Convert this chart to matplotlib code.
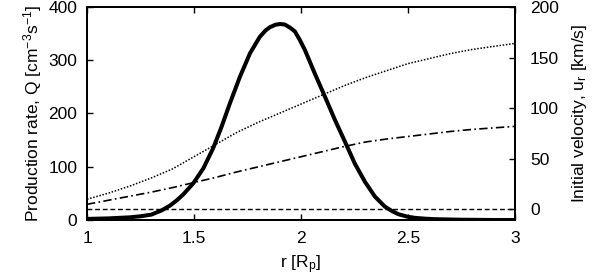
import numpy as np
import matplotlib
matplotlib.use('Agg')
import matplotlib.pyplot as plt

plt.rcParams['font.family'] = ['Liberation Sans', 'DejaVu Sans']
plt.rcParams['mathtext.fontset'] = 'custom'
plt.rcParams['mathtext.rm'] = 'Liberation Sans'
plt.rcParams['mathtext.it'] = 'Liberation Sans'

# production rate Q (left axis)
r_q = [1.0, 1.1, 1.2, 1.25, 1.3, 1.349, 1.388, 1.42, 1.45, 1.497, 1.544,
       1.59, 1.629, 1.668, 1.715, 1.762, 1.808, 1.835, 1.855, 1.88, 1.902,
       1.925, 1.95, 1.972, 1.995, 2.019, 2.065, 2.112, 2.159, 2.206, 2.252,
       2.299, 2.346, 2.393, 2.425, 2.455, 2.495, 2.533, 2.58, 2.626, 2.75,
       2.9, 3.0]
q = [2, 3, 5, 7, 10, 18, 27, 37, 48, 69, 97,
     135, 175, 219, 269, 313, 344, 356, 362, 366.5, 368,
     367, 361, 354, 338, 319, 275, 232, 188, 147, 106,
     72, 44, 25, 17, 11, 6.5, 4, 2.5, 1.5, 0.5,
     0, 0]

# initial velocities (right axis)
r_u = [1.0, 1.1, 1.2, 1.3, 1.4, 1.5, 1.6, 1.7, 1.8, 1.9, 2.0,
       2.1, 2.2, 2.3, 2.4, 2.5, 2.6, 2.7, 2.8, 2.9, 3.0]
u_dot = [10, 16, 23, 31, 40, 52, 64, 76, 86, 95, 104,
         113, 122, 130, 137, 144, 149, 154, 158, 161, 164]
u_dashdot = [5, 9, 13, 17, 21.5, 26.5, 31.5, 37, 42, 47, 52,
             57, 62, 66.5, 69.5, 72, 74.5, 77, 79, 80.5, 82]
r_flat = [1.0, 3.0]
u_flat = [0, 0]

fig = plt.figure(figsize=(6, 2.79), dpi=100)
ax = fig.add_axes([0.145, 0.2115, 0.713, 0.7635])
ax2 = ax.twinx()

ax.plot(r_q, q, color='black', lw=2.9, solid_capstyle='round',
        solid_joinstyle='round', zorder=5)
ax2.plot(r_u, u_dot, color='black', lw=1.1, linestyle=(0, (1, 1.1)))
ax2.plot(r_u, u_dashdot, color='black', lw=1.2, linestyle=(0, (5, 2, 1, 2)))
ax2.plot(r_flat, u_flat, color='black', lw=1.0, linestyle=(0, (3.5, 2)))

ax.set_xlim(1, 3)
ax.set_ylim(0, 400)
ax2.set_ylim(-10.5, 200)
ax.set_xticks([1, 1.5, 2, 2.5, 3])
ax.set_xticklabels(['1', '1.5', '2', '2.5', '3'])
ax.set_yticks([0, 100, 200, 300, 400])
ax2.set_yticks([0, 50, 100, 150, 200])

fs = 12.5
ax.tick_params(direction='in', length=4.5, width=1, labelsize=fs, pad=7,
               top=True, right=False)
ax.tick_params(axis='x', pad=8)
ax2.tick_params(direction='in', length=4.5, width=1, labelsize=fs, pad=11)
for a in (ax, ax2):
    for s in a.spines.values():
        s.set_linewidth(1.4)

ax.set_xlabel('r [R$_\\mathrm{p}$]', fontsize=fs, labelpad=5)
ax.set_ylabel('Production rate, Q [cm$^{-3}$s$^{-1}$]', fontsize=fs, labelpad=3)
ax2.set_ylabel('Initial velocity, u$_\\mathrm{r}$ [km/s]', fontsize=fs, labelpad=8)

fig.savefig('out.png', dpi=100)
